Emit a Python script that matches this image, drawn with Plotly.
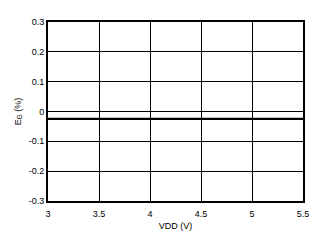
import plotly.graph_objects as go

vdd = [3.0, 3.5, 4.0, 4.5, 5.0, 5.5]
gain_error = [-0.025, -0.025, -0.025, -0.025, -0.025, -0.025]
x_ticks = [3, 3.5, 4, 4.5, 5, 5.5]
x_tick_text = ["3", "3.5", "4", "4.5", "5", "5.5"]
y_ticks = [-0.3, -0.2, -0.1, 0, 0.1, 0.2, 0.3]
y_tick_text = ["-0.3", "-0.2", "-0.1", "0", "0.1", "0.2", "0.3"]

fig = go.Figure()
fig.add_trace(go.Scatter(x=vdd, y=gain_error, mode="lines",
                         line=dict(color="black", width=2.2), showlegend=False))

font = dict(family="Liberation Sans, Arial, sans-serif", size=9, color="black")
fig.update_layout(
    width=324, height=243,
    margin=dict(l=48, r=21, t=22, b=42),
    paper_bgcolor="white", plot_bgcolor="white",
    font=font,
    xaxis=dict(range=[3, 5.5], tickvals=x_ticks, ticktext=x_tick_text,
               showgrid=True, gridcolor="black", gridwidth=1,
               showline=True, linecolor="black", linewidth=2, mirror=True,
               ticks="", zeroline=False, ticklen=0, ticklabelstandoff=3,
               title=dict(text="VDD (V)", font=font, standoff=5)),
    yaxis=dict(range=[-0.3, 0.3], tickvals=y_ticks, ticktext=y_tick_text,
               showgrid=True, gridcolor="black", gridwidth=1,
               showline=True, linecolor="black", linewidth=2, mirror=True,
               ticks="", zeroline=True, zerolinecolor="black", zerolinewidth=1,
               title=dict(text="E<sub>G</sub> (%)", font=font, standoff=6)),
)
fig.write_html("out.html")
